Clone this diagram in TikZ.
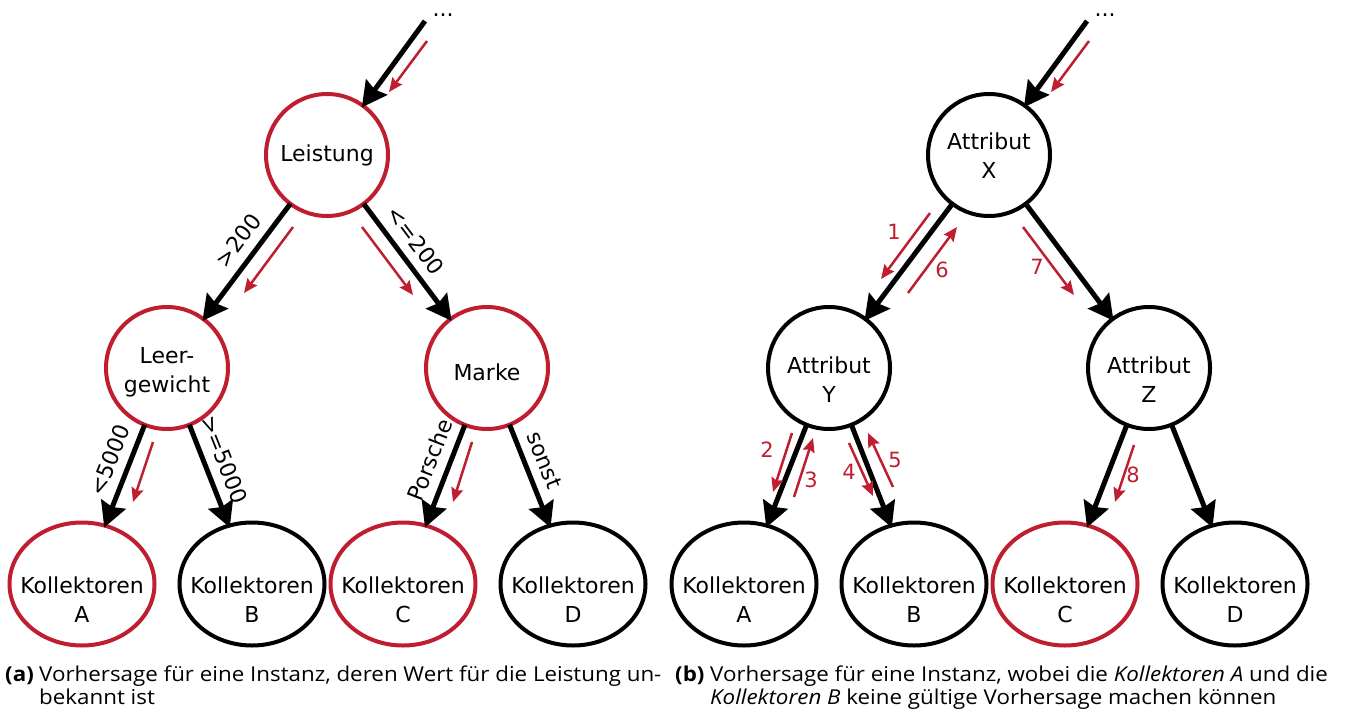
\documentclass[tikz,border=0pt]{standalone}
\usepackage{graphicx}
\usepackage{fontspec}
\setmainfont{DejaVu Sans}
\newfontfamily\capfont{Open Sans}
\usetikzlibrary{arrows.meta,shapes.geometric}
\definecolor{treered}{RGB}{190,30,48}
\newcommand\treefont{\fontsize{22}{29}\selectfont}
\newcommand\walkfont{\fontsize{21}{25}\selectfont}
\newcommand\captionfont{\capfont\fontsize{20.5}{22}\selectfont}
\newcommand\capline[1]{\scalebox{1.09}[1]{#1}}
\begin{document}
\begin{tikzpicture}[x=1pt,y=-1pt,
  inner/.style={circle, draw, line width=4pt, minimum size=122pt, inner sep=0pt,
                outer sep=0pt},
  redc/.style={draw=treered},
  leaf/.style={ellipse, draw, line width=4pt, minimum width=145pt, minimum height=123pt,
               inner sep=0pt, outer sep=0pt},
  nodetext/.style={align=center, font=\treefont, inner sep=0pt},
  edgearrow/.style={line width=5pt, -{Stealth[length=25pt,width=26pt,inset=3pt]},
                    shorten >=-2pt},
  walk/.style={treered, line width=2.5pt, -{Stealth[length=14pt,width=12pt,inset=2pt]}},
  cond/.style={sloped, above=9pt, pos=0.42, font=\treefont, inner sep=0pt},
  stepnum/.style={text=treered, font=\walkfont, inner sep=0pt},
  capnode/.style={anchor=base west, inner sep=0pt, font=\captionfont},
]
\useasboundingbox (0,0) rectangle (1347,717);

% ---------- (a) tree with unknown Leistung ----------
\node[inner, redc] (leistung) at (327,155) {};
\node[inner, redc] (leer) at (167,368) {};
\node[inner, redc] (marke) at (487,368) {};
\node[nodetext] (leistungT) at (327,155) {Leistung};
\node[nodetext] (leerT) at (167,372) {Leer-\\gewicht};
\node[nodetext] (markeT) at (487,372) {Marke};
\node[leaf, redc] (aA) at (82,584) {};
\node[leaf] (aB) at (252,584) {};
\node[leaf, redc] (aC) at (403,584) {};
\node[leaf] (aD) at (573,584) {};
\node[nodetext] (aAt) at (82,600) {Kollektoren\\A};
\node[nodetext] (aBt) at (252,600) {Kollektoren\\B};
\node[nodetext] (aCt) at (403,600) {Kollektoren\\C};
\node[nodetext] (aDt) at (573,600) {Kollektoren\\D};

\node[inner sep=0pt, anchor=base, font=\treefont] (aDots) at (443,17) {...};
\coordinate (aIn) at (425,21);
\draw[edgearrow] (aIn) -- (leistung);
\draw[edgearrow] (leistung) -- node[cond] (aL1) {>200} (leer);
\draw[edgearrow] (leistung) -- node[cond] (aL2) {<=200} (marke);
\draw[edgearrow] (leer) -- node[cond] (aL3) {<5000} (aA);
\draw[edgearrow] (leer) -- node[cond] (aL4) {>=5000} (aB);
\draw[edgearrow] (marke) -- node[cond] (aL5) {Porsche} (aC);
\draw[edgearrow] (marke) -- node[cond] (aL6) {sonst} (aD);

% path of the instance
\coordinate (aw0s) at (427,41);  \coordinate (aw0e) at (389,92);
\coordinate (aw1s) at (293,227); \coordinate (aw1e) at (244,293);
\coordinate (aw2s) at (362,227); \coordinate (aw2e) at (413,295);
\coordinate (aw3s) at (153,442); \coordinate (aw3e) at (133,502);
\coordinate (aw4s) at (472,442); \coordinate (aw4e) at (453,502);
\draw[walk] (aw0s) -- (aw0e);
\draw[walk] (aw1s) -- (aw1e);
\draw[walk] (aw2s) -- (aw2e);
\draw[walk] (aw3s) -- (aw3e);
\draw[walk] (aw4s) -- (aw4e);

% ---------- (b) tree with invalid leaves A and B ----------
\node[inner] (attX) at (989,155) {};
\node[inner] (attY) at (829,368) {};
\node[inner] (attZ) at (1149,368) {};
\node[nodetext] (attXt) at (989,156) {Attribut\\X};
\node[nodetext] (attYt) at (829,380) {Attribut\\Y};
\node[nodetext] (attZt) at (1149,380) {Attribut\\Z};
\node[leaf] (bA) at (744,584) {};
\node[leaf] (bB) at (914,584) {};
\node[leaf, redc] (bC) at (1065,584) {};
\node[leaf] (bD) at (1235,584) {};
\node[nodetext] (bAt) at (744,600) {Kollektoren\\A};
\node[nodetext] (bBt) at (914,600) {Kollektoren\\B};
\node[nodetext] (bCt) at (1065,600) {Kollektoren\\C};
\node[nodetext] (bDt) at (1235,600) {Kollektoren\\D};

\node[inner sep=0pt, anchor=base, font=\treefont] (bDots) at (1105,17) {...};
\coordinate (bIn) at (1087,21);
\draw[edgearrow] (bIn) -- (attX);
\draw[edgearrow] (attX) -- (attY);
\draw[edgearrow] (attX) -- (attZ);
\draw[edgearrow] (attY) -- (bA);
\draw[edgearrow] (attY) -- (bB);
\draw[edgearrow] (attZ) -- (bC);
\draw[edgearrow] (attZ) -- (bD);

% numbered walk through the tree
\coordinate (bw0s) at (1089,41);  \coordinate (bw0e) at (1051,92);
\coordinate (bw1s) at (930,213);  \coordinate (bw1e) at (881,279);
\coordinate (bw6s) at (908,293);  \coordinate (bw6e) at (957,227);
\coordinate (bw7s) at (1023,227); \coordinate (bw7e) at (1074,295);
\coordinate (bw2s) at (792,433);  \coordinate (bw2e) at (773,492);
\coordinate (bw3s) at (794,497);  \coordinate (bw3e) at (813,438);
\coordinate (bw4s) at (849,443);  \coordinate (bw4e) at (873,496);
\coordinate (bw5s) at (893,487);  \coordinate (bw5e) at (868,433);
\coordinate (bw8s) at (1134,445); \coordinate (bw8e) at (1115,502);
\draw[walk] (bw0s) -- (bw0e);
\draw[walk] (bw1s) -- (bw1e);
\draw[walk] (bw6s) -- (bw6e);
\draw[walk] (bw7s) -- (bw7e);
\draw[walk] (bw2s) -- (bw2e);
\draw[walk] (bw3s) -- (bw3e);
\draw[walk] (bw4s) -- (bw4e);
\draw[walk] (bw5s) -- (bw5e);
\draw[walk] (bw8s) -- (bw8e);
\node[stepnum] (n1) at (894,232) {1};
\node[stepnum] (n6) at (942,270) {6};
\node[stepnum] (n7) at (1037,267) {7};
\node[stepnum] (n2) at (767,450) {2};
\node[stepnum] (n3) at (811,480) {3};
\node[stepnum] (n4) at (849,472) {4};
\node[stepnum] (n5) at (895,460) {5};
\node[stepnum] (n8) at (1133,475) {8};

% ---------- captions ----------
\node[capnode] (capAtag) at (5,681) {\capline{\bfseries (a)}};
\node[capnode] (capA1) at (39,681) {\capline{Vorhersage für eine Instanz, deren Wert für die Leistung un-}};
\node[capnode] (capA2) at (39,704) {\capline{bekannt ist}};
\node[capnode] (capBtag) at (675,681) {\capline{\bfseries (b)}};
\node[capnode] (capB1) at (710,681) {\capline{Vorhersage für eine Instanz, wobei die \textit{Kollektoren A} und die}};
\node[capnode] (capB2) at (710,704) {\capline{\textit{Kollektoren B} keine gültige Vorhersage machen können}};
\end{tikzpicture}
\end{document}
